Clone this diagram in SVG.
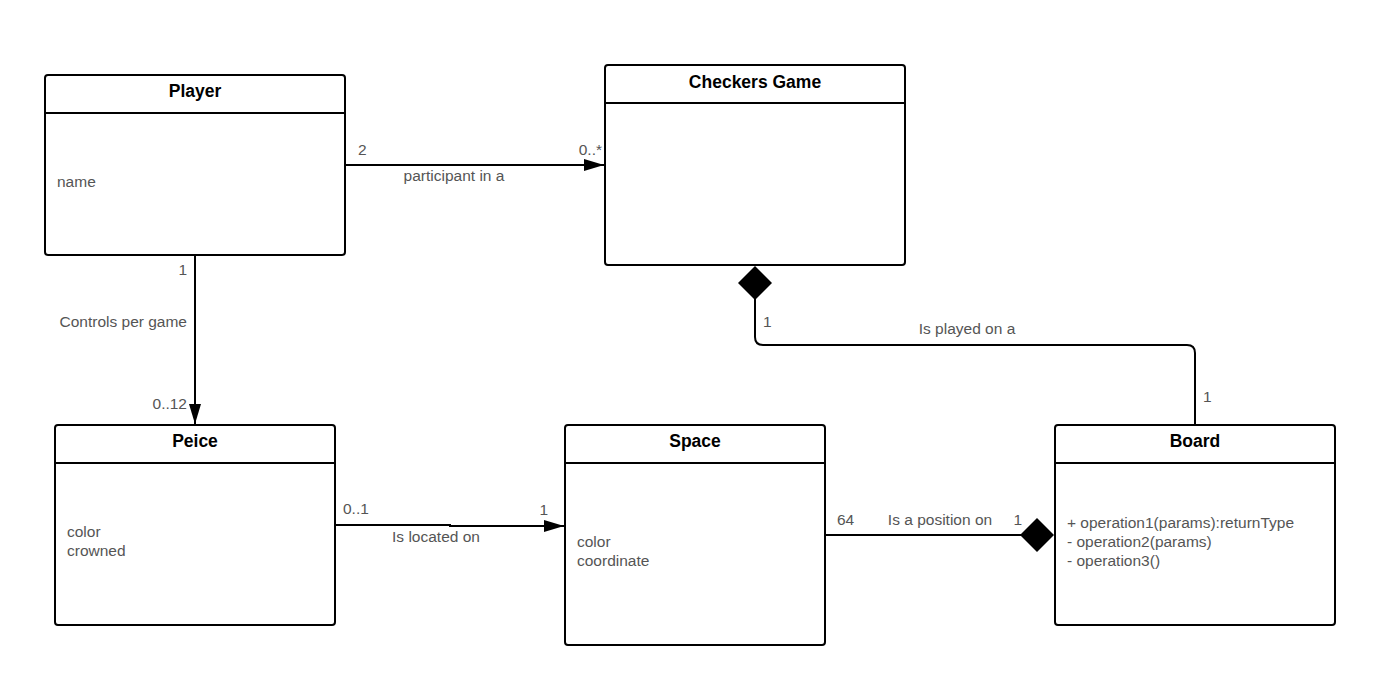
<svg xmlns="http://www.w3.org/2000/svg" width="1400" height="673" viewBox="0 0 1400 673">
<defs>
<style>
.box{fill:#fff;stroke:#000;stroke-width:2}
.sep{stroke:#000;stroke-width:2}
.title{font-family:"Liberation Sans",Arial,sans-serif;font-size:17.5px;font-weight:bold;fill:#000;text-anchor:middle}
.attr{font-family:"Liberation Sans",Arial,sans-serif;font-size:15.5px;fill:#555}
.lbl{font-family:"Liberation Sans",Arial,sans-serif;font-size:15.5px;fill:#555}
.conn{fill:none;stroke:#000;stroke-width:2}
</style>
<marker id="arrow" markerWidth="20" markerHeight="14" refX="20" refY="7" orient="auto" markerUnits="userSpaceOnUse">
<path d="M0,1 L20,7 L0,13 Z" fill="#000"/>
</marker>
</defs>
<rect width="1400" height="673" fill="#fff"/>
<g id="connectors">
<line class="conn" x1="346" y1="165" x2="604" y2="165" marker-end="url(#arrow)"/>
<line class="conn" x1="195" y1="256" x2="195" y2="424" marker-end="url(#arrow)"/>
<path class="conn" d="M755,299 L755,337 Q755,345 763,345 L1187,345 Q1195,345 1195,353 L1195,424"/>
<path d="M755,266 L772,283 L755,300 L738,283 Z" fill="#000"/>
<path class="conn" d="M336,525 L450,525 L450,526 L564,526" marker-end="url(#arrow)"/>
<line class="conn" x1="826" y1="535" x2="1021" y2="535"/>
<path d="M1020,535 L1037,518 L1054,535 L1037,552 Z" fill="#000"/>
<text class="lbl" x="358" y="155">2</text>
<text class="lbl" x="602" y="155" text-anchor="end">0..*</text>
<text class="lbl" x="454" y="181" text-anchor="middle">participant in a</text>
<text class="lbl" x="187" y="275" text-anchor="end">1</text>
<text class="lbl" x="187" y="327" text-anchor="end">Controls per game</text>
<text class="lbl" x="187" y="409" text-anchor="end">0..12</text>
<text class="lbl" x="763" y="327">1</text>
<text class="lbl" x="967" y="334" text-anchor="middle">Is played on a</text>
<text class="lbl" x="1203" y="402">1</text>
<text class="lbl" x="343" y="514">0..1</text>
<text class="lbl" x="548" y="515" text-anchor="end">1</text>
<text class="lbl" x="436" y="542" text-anchor="middle">Is located on</text>
<text class="lbl" x="837" y="525">64</text>
<text class="lbl" x="940" y="525" text-anchor="middle">Is a position on</text>
<text class="lbl" x="1022" y="525" text-anchor="end">1</text>
</g>
<g id="player">
<rect class="box" x="45" y="75" width="300" height="180" rx="3"/>
<line class="sep" x1="45" y1="113" x2="345" y2="113"/>
<text class="title" x="195" y="97">Player</text>
<text class="attr" x="57" y="187">name</text>
</g>
<g id="checkers-game">
<rect class="box" x="605" y="65" width="300" height="200" rx="3"/>
<line class="sep" x1="605" y1="103" x2="905" y2="103"/>
<text class="title" x="755" y="88">Checkers Game</text>
</g>
<g id="peice">
<rect class="box" x="55" y="425" width="280" height="200" rx="3"/>
<line class="sep" x1="55" y1="463" x2="335" y2="463"/>
<text class="title" x="195" y="447">Peice</text>
<text class="attr" x="67" y="537">color</text>
<text class="attr" x="67" y="556">crowned</text>
</g>
<g id="space">
<rect class="box" x="565" y="425" width="260" height="220" rx="3"/>
<line class="sep" x1="565" y1="463" x2="825" y2="463"/>
<text class="title" x="695" y="447">Space</text>
<text class="attr" x="577" y="547">color</text>
<text class="attr" x="577" y="566">coordinate</text>
</g>
<g id="board">
<rect class="box" x="1055" y="425" width="280" height="200" rx="3"/>
<line class="sep" x1="1055" y1="463" x2="1335" y2="463"/>
<text class="title" x="1195" y="447">Board</text>
<text class="attr" x="1067" y="528">+ operation1(params):returnType</text>
<text class="attr" x="1067" y="547">- operation2(params)</text>
<text class="attr" x="1067" y="566">- operation3()</text>
</g>
</svg>
